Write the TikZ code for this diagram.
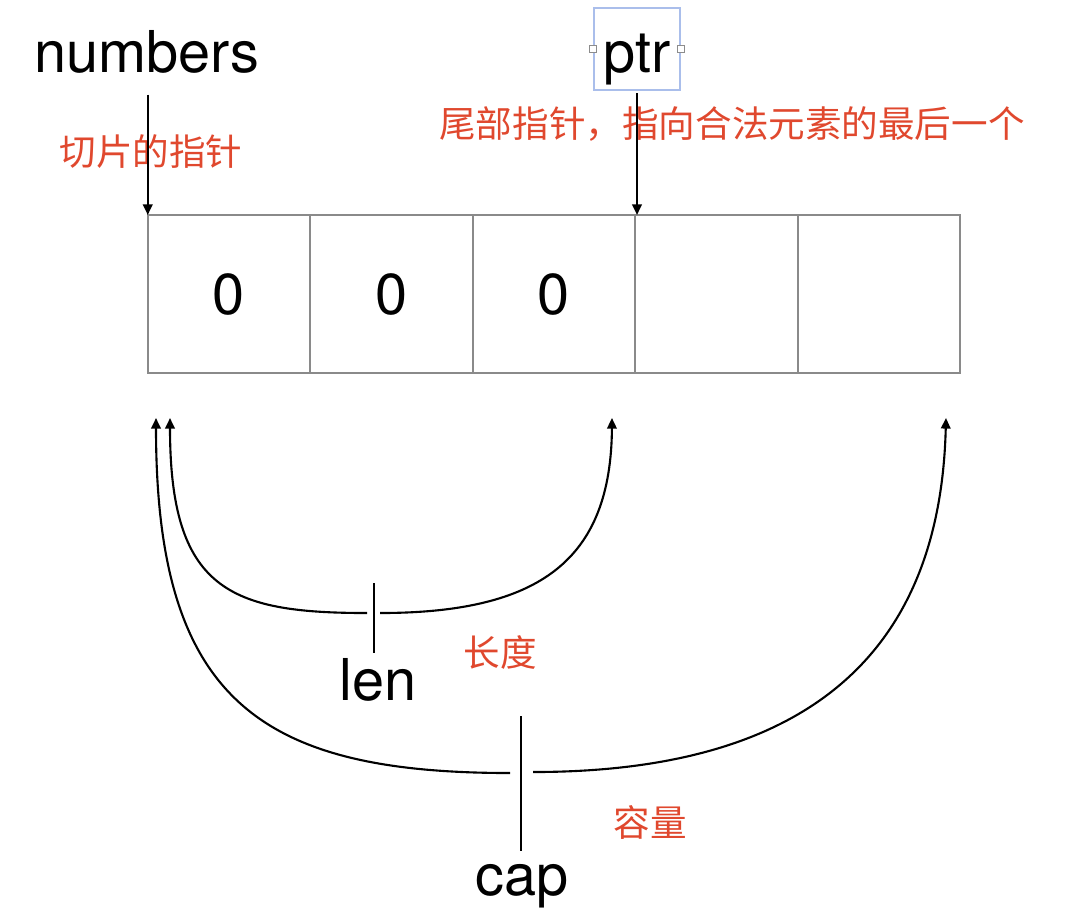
\documentclass[tikz,border=0pt]{standalone}
\usepackage{fontspec}
\setmainfont{TeX Gyre Heros}
\newfontfamily\cjk{Noto Sans CJK SC}
\usepackage{tikz}
\usetikzlibrary{positioning,arrows.meta}
\definecolor{notered}{RGB}{224,72,46}
\definecolor{cellgray}{RGB}{138,138,138}
\definecolor{selblue}{RGB}{170,190,235}

\begin{document}
\begin{tikzpicture}[x=0.01cm,y=-0.01cm,inner sep=0pt,
  lbl/.style={font=\fontsize{16.4}{18}\selectfont},
  note/.style={font=\cjk\fontsize{10.4}{12}\selectfont,text=notered},
  cell/.style={draw=cellgray,line width=0.6pt,outer sep=0pt,minimum width=1.624cm,minimum height=1.58cm,font=\fontsize{16.4}{18}\selectfont},
  selbox/.style={draw=selblue,line width=0.35pt,minimum width=0.86cm,minimum height=0.82cm},
  handle/.style={draw=black!45,fill=white,line width=0.3pt,minimum size=0.07cm},
  arr/.style={line width=0.6pt,-{Triangle[length=3pt,width=2.7pt]}},
  ln/.style={line width=0.6pt}]
\useasboundingbox (0,0) rectangle (1088,920);
\node[cell] (c1) at (229,294) {0};
\node[cell] (c2) [right=0pt of c1] {0};
\node[cell] (c3) [right=0pt of c2] {0};
\node[cell] (c4) [right=0pt of c3] {};
\node[cell] (c5) [right=0pt of c4] {};
\node[selbox] (sel) at (637,49) {};
\node[handle] (hl) at (sel.west) {};
\node[handle] (hr) at (sel.east) {};
\node[lbl,anchor=base] (numbers) at (147,72) {numbers};
\node[lbl,anchor=base] (ptr) at (637,72) {ptr};
\node[note] (slicenote) at (151,152) {切片的指针};
\node[note] (ptrnote) at (732,124) {尾部指针，指向合法元素的最后一个};
\node[note] (lennote) at (500,652) {长度};
\node[note] (capnote) at (650,822) {容量};
\draw[arr,shorten <=0.21cm] (numbers.south -| c1.north west) -- (c1.north west);
\draw[arr,shorten <=0.08cm] (ptr.south) -- (ptr.south |- c4.north);
\coordinate (lenL) at (170,418);
\coordinate (lenR) at (612,418);
\coordinate (capL) at (156,418);
\coordinate (capR) at (946,418);
\coordinate (lena) at (367,613);
\coordinate (lenb) at (380,613);
\coordinate (capa) at (510,773);
\coordinate (capb) at (533,772);
\draw[arr] (lena) .. controls (230,613) and (170,590) .. (lenL);
\draw[arr] (lenb) .. controls (540,613) and (611,560) .. (lenR);
\draw[arr] (capa) .. controls (260,773) and (156,700) .. (capL);
\draw[arr] (capb) .. controls (800,772) and (940,660) .. (capR);
\node[lbl,anchor=base] (len) at (378,700) {len};
\node[lbl,anchor=base] (cap) at (522,895) {cap};
\coordinate (lent) at (374,583);
\coordinate (capt) at (521,716);
\draw[ln,shorten >=0.04cm] (lent) -- (lent |- len.north);
\draw[ln,shorten >=0.12cm] (capt) -- (capt |- cap.north);
\end{tikzpicture}
\end{document}
